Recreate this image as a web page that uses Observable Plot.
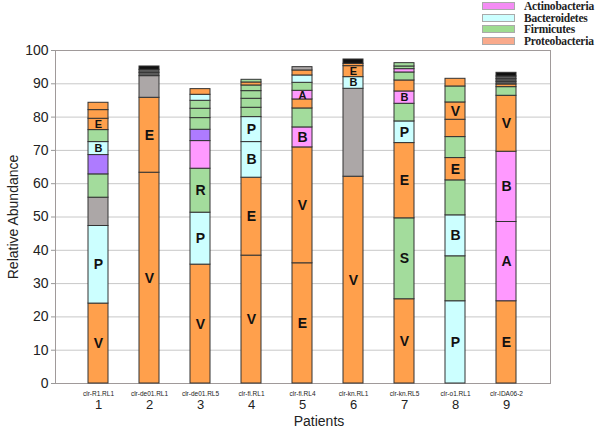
<!DOCTYPE html>
<html><head><meta charset="utf-8">
<script src="https://cdn.jsdelivr.net/npm/d3@7"></script>
<script src="https://cdn.jsdelivr.net/npm/@observablehq/plot@0.6"></script>
<style>
body{margin:0;background:#fff;}
#wrap{position:relative;width:600px;height:428px;overflow:hidden;}
#legend{position:absolute;left:482px;top:0;font-family:"Liberation Serif",serif;font-weight:bold;font-size:11.5px;letter-spacing:-0.2px;color:#222;}
.item{display:flex;align-items:center;height:11.7px;white-space:nowrap;}
.sw{width:33px;height:8px;border:1px solid #aaa;margin-right:9px;box-sizing:border-box;flex:none;}
</style></head><body><div id="wrap"><div id="legend"></div></div>
<script>
const patients = ["1","2","3","4","5","6","7","8","9"];
const sampleIds = ["clr-R1.RL1","clr-de01.RL1","clr-de01.RL5","clr-fi.RL1","clr-fi.RL4","clr-kn.RL1","clr-kn.RL5","clr-o1.RL1","clr-IDA06-2"];
const yTicks = [0,10,20,30,40,50,60,70,80,90,100];

// cumulative top of each segment, per patient
const tops = [
  [24.0,47.3,55.8,62.8,68.6,72.5,76.1,79.5,82.1,84.3],
  [63.3,85.8,92.3,93.3,94.2,95.2],
  [35.7,51.3,64.5,72.8,76.2,79.7,82.5,84.9,86.7,88.4],
  [38.4,61.8,72.5,80.0,82.8,85.5,87.8,89.5,90.4,91.2],
  [36.1,70.9,76.9,82.6,85.3,87.9,90.3,92.5,94.0,95.0],
  [62.1,88.5,92.0,95.3,96.0,97.3],
  [25.3,49.6,72.2,78.7,84.0,87.7,91.0,93.4,94.4,95.2,96.2],
  [24.7,38.2,50.5,61.0,67.7,74.0,79.2,84.4,89.2,91.5],
  [24.7,48.5,69.6,86.4,89.0,89.8,90.6,91.4,92.2,93.3]
];
// segment type: O orange, C cyan, G green, K pink, U purple, Y gray, D dark gray, N black
const types = [
  ["O","C","Y","G","U","C","G","O","O","O"],
  ["O","O","Y","D","D","N"],
  ["O","C","G","K","U","G","G","G","C","O"],
  ["O","O","C","C","G","G","G","G","O","G"],
  ["O","O","K","G","O","K","G","C","O","Y"],
  ["O","Y","C","O","O","N"],
  ["O","G","O","C","G","K","O","G","K","G","G"],
  ["C","G","C","G","O","G","O","O","G","O"],
  ["O","K","K","O","G","O","D","D","D","N"]
];
const labels = [
  ["V","P","","","","B","","E","",""],
  ["V","E","","","",""],
  ["V","P","R","","","","","","",""],
  ["V","E","B","P","","","","","",""],
  ["E","V","B","","","A","","","",""],
  ["V","","B","E","",""],
  ["V","S","E","P","","B","","","","",""],
  ["P","","B","","E","","","V","",""],
  ["E","A","B","V","","","","","",""]
];
const typeKeys = ["O","C","G","K","U","Y","D","N"];
const typeColors = ["#FFA04C","#CCFFFF","#A3DC9C","#FF99FF","#AE7BFF","#ACA7A7","#5a5a5a","#111111"];

const legendNames = ["Actinobacteria","Bacteroidetes","Firmicutes","Proteobacteria"];
const legendColors = ["#F48CF4","#CCFFFF","#9EDC90","#F9AA8C"];

const segments = [];
tops.forEach((arr, i) => {
  arr.forEach((t, j) => {
    segments.push({patient: patients[i], y1: j === 0 ? 0 : arr[j-1], y2: t, type: types[i][j], label: labels[i][j]});
  });
});

const chart = Plot.plot({
  width: 600, height: 428,
  marginLeft: 55, marginRight: 50, marginTop: 50, marginBottom: 45,
  style: {fontFamily: "'Liberation Sans', Arial, sans-serif", background: "#fff", color: "#222"},
  x: {domain: patients, padding: 0.6, axis: null},
  y: {domain: [0, 100], axis: null},
  color: {domain: typeKeys, range: typeColors},
  marks: [
    Plot.gridY(yTicks, {stroke: "#c8c8c8", strokeOpacity: 1}),
    Plot.frame({stroke: "#a09a9a"}),
    Plot.axisY(yTicks, {tickSize: 4, tickPadding: 3, fontSize: 14, stroke: "#999",
      label: "Relative Abundance", labelAnchor: "center", labelArrow: "none", labelOffset: 47}),
    Plot.barY(segments, {x: "patient", y1: "y1", y2: "y2", fill: "type", stroke: "#333", strokeWidth: 1}),
    Plot.text(segments.filter(d => d.label), {x: "patient", y: d => (d.y1 + d.y2) / 2, text: "label",
      fontWeight: "bold", fontSize: d => (d.y2 - d.y1) < 4 ? 11 : 14, fill: "#111"}),
    Plot.axisX({tickSize: 0, tickPadding: 8, fontSize: 6.5, label: null,
      tickFormat: d => sampleIds[patients.indexOf(d)]}),
    Plot.axisX({tickSize: 0, tickPadding: 16, fontSize: 13, label: null}),
    Plot.text(["Patients"], {frameAnchor: "bottom", dy: 42, dx: 16, fontSize: 14, fill: "#222"})
  ]
});
document.getElementById("wrap").prepend(chart);

const leg = document.getElementById("legend");
legendNames.forEach((n, i) => {
  const it = document.createElement("div");
  it.className = "item";
  it.innerHTML = `<span class="sw" style="background:${legendColors[i]}"></span><span>${n}</span>`;
  leg.appendChild(it);
});
</script></body></html>
